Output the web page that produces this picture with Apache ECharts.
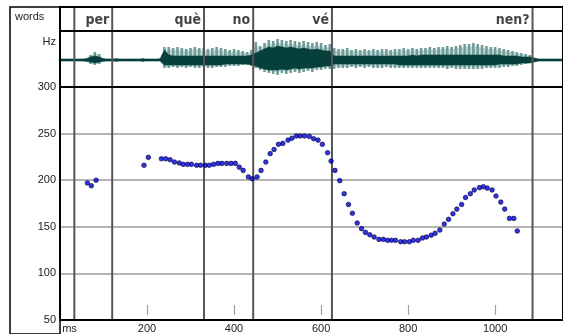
<!DOCTYPE html>
<html>
<head>
<meta charset="utf-8">
<script src="https://cdn.jsdelivr.net/npm/echarts@6/dist/echarts.min.js"></script>
<style>
html,body{margin:0;padding:0;background:#fff;}
#c{width:563px;height:334px;}
</style>
</head>
<body>
<div id="c"></div>
<script>
// ---- data ----
const words = ['per', 'què', 'no', 'vé', 'nen?'];
const boundaries = [33, 120, 331, 444, 625, 1086]; // ms
const xTicks = [0, 200, 400, 600, 800, 1000];
const yTicks = [50, 100, 150, 200, 250, 300];

const pitchTimes = [63, 72, 83,
  193, 203, 233, 243, 253, 263, 274, 283, 293, 302, 314, 323, 334, 343, 353, 363, 372, 383, 393, 403,
  412, 421, 433, 442, 453, 462, 473, 483, 492, 502, 512, 524, 533, 543, 552, 562, 573, 583, 593, 603,
  615, 623, 632, 643, 653, 663, 672, 683, 693, 702, 712, 722, 733, 743, 753, 762, 771, 783, 792, 803,
  812, 823, 833, 842, 853, 862, 873, 883, 893, 903, 912, 923, 932, 943, 952, 964, 973, 982, 993, 1002,
  1013, 1022, 1033, 1043, 1051];
const pitchHz = [197, 194, 200,
  216, 224.5, 223, 223, 222, 219.5, 218.5, 217, 217, 217, 216, 216, 216, 216, 217, 218, 218, 218, 218, 218,
  214, 210.5, 203.5, 201.5, 203.5, 210.5, 219.5, 228.5, 233, 238.5, 239.5, 243, 245, 247.5, 247.5, 247.5, 247, 244.5, 243, 238.5,
  229.5, 220.5, 210.5, 199.5, 185.5, 174, 164.5, 154, 148, 144, 141.5, 139, 136.5, 136.5, 135.5, 135.5, 135.5, 134, 134, 134,
  135.5, 135.5, 138, 139, 141, 143, 146.5, 153, 158, 164, 169, 174, 181.5, 185.5, 189.5, 192, 193, 191.5, 189.5, 183,
  176.5, 169, 159, 159, 145.5];

// waveform envelope, one value every 10 ms from 0 ms
const waveStep = 10;
const lightUp = [1,1,1,1,1,1,2,5,8,6,2,1,1,2,1,1,1,1,1,2,1,1,1,2,
  13,13,12,13,12,11,12,13,12,12,11,12,13,12,11,10,11,10,9,8,10,
  18,14,17,20,19,21,20,19,20,19,18,19,18,17,18,17,15,16,
  12,11,11,12,10,11,10,11,10,11,10,11,11,10,11,11,12,11,12,11,12,12,13,12,13,13,14,13,14,15,16,16,17,16,15,14,13,13,12,11,10,9,8,7,6,5,
  2,1,1,1,1,1,1];
const lightDown = [1,1,1,1,1,1,2,4,5,4,2,1,1,2,1,1,1,1,1,2,1,1,1,1,
  8,8,7,8,7,8,7,8,8,7,8,8,7,7,7,6,6,6,5,5,6,
  8,10,12,13,14,15,13,14,13,12,13,12,11,12,10,10,9,9,
  9,8,8,8,7,8,7,8,7,8,8,8,7,8,8,8,8,8,8,8,8,8,8,8,8,8,9,8,9,9,9,9,9,9,9,8,8,8,8,7,7,6,6,5,4,3,
  2,1,1,1,1,1,1];
const darkUp = [1,1,1,1,1,1,1,3,4,3,1,1,1,1,1,1,1,1,1,1,1,1,1,1,
  10,5,4,4,4,4,4,4,4,4,4,4,4,4,4,4,4,4,4,4,5,
  7,9,11,13,12,14,13,12,13,12,11,12,11,10,11,10,9,9,
  4,4,4,4,4,4,4,4,4,4,4,4,4,4,4,4,4,4,5,4,5,5,5,5,5,5,5,5,5,5,5,5,5,5,5,5,5,5,5,4,4,4,4,3,3,3,2,
  1,1,1,1,1,1,1];
const darkDown = [1,1,1,1,1,1,1,2,3,2,1,1,1,1,1,1,1,1,1,1,1,1,1,1,
  5,5,5,5,5,5,5,5,5,5,5,5,5,5,4,4,4,4,4,4,5,
  6,8,9,10,10,10,9,10,9,8,9,8,8,8,7,7,6,6,
  4,4,4,4,4,4,4,4,4,4,4,4,4,4,4,5,5,5,5,5,5,5,5,5,5,5,5,5,5,5,5,5,5,5,5,5,5,5,4,4,4,4,4,3,3,3,2,
  1,1,1,1,1,1,1];

// ---- build ----
const X_MAX = 1156;
const pitchData = pitchTimes.map((t, i) => [t, pitchHz[i]]);
const wordData = words.map((w, i) => ({ value: [boundaries[i + 1], 0.5], name: w }));
const labelFont = '"Liberation Sans", Arial, sans-serif';
const envData = (up, down) => up.map((v, i) => [i * waveStep, v, -down[i]]);

const chart = echarts.init(document.getElementById('c'), null, { renderer: 'canvas' });
const hiddenX = (g) => ({ type: 'value', gridIndex: g, min: 0, max: X_MAX, show: false });

// light envelope drawn as pitch-period-like stripes
const stripeSeries = (data, color, w, z) => ({
  type: 'custom', xAxisIndex: 2, yAxisIndex: 2, data: data, silent: true, z: z,
  renderItem: (params, api) => {
    const a = api.coord([api.value(0), api.value(1)]);
    const b = api.coord([api.value(0), api.value(2)]);
    return { type: 'rect', shape: { x: a[0] - w / 2, y: a[1], width: w, height: Math.max(1, b[1] - a[1]) },
      style: { fill: color } };
  }
});
const waveArea = (data, color, z) => ({
  type: 'line', xAxisIndex: 2, yAxisIndex: 2, data: data, symbol: 'none', silent: true,
  lineStyle: { width: 0.6, color: color }, areaStyle: { color: color, opacity: 1 }, z: z
});

chart.setOption({
  animation: false,
  grid: [
    { left: 10, top: 7, width: 50, bottom: -10, show: true, borderColor: '#000', borderWidth: 1.5, z: 10 },
    { left: 60, right: -5, top: 7, height: 24, show: true, borderColor: '#000', borderWidth: 2, z: 10 },
    { left: 60, right: -5, top: 31, height: 56, show: true, borderColor: '#000', borderWidth: 2, z: 10 },
    { left: 60, right: -5, top: 87, height: 234, show: true, borderColor: '#000', borderWidth: 2, z: 10 },
    { left: 60, right: -5, top: 7, height: 314, show: false }
  ],
  xAxis: [
    { type: 'value', gridIndex: 0, min: 0, max: 1, show: false },
    hiddenX(1),
    hiddenX(2),
    {
      type: 'value', gridIndex: 3, position: 'bottom', min: 0, max: X_MAX, interval: 200,
      axisLine: { show: false }, axisTick: { show: false }, splitLine: { show: false },
      axisLabel: {
        show: true, showMinLabel: true, showMaxLabel: false, margin: 3,
        color: '#222', fontSize: 11, fontFamily: labelFont,
        formatter: (v) => (v === xTicks[0] ? '{u|ms}' : (xTicks.indexOf(v) >= 0 ? String(v) : '')),
        rich: { u: { padding: [0, 0, 0, 19], color: '#222', fontSize: 11, fontFamily: labelFont } }
      }
    },
    {
      type: 'value', gridIndex: 3, position: 'bottom', min: 0, max: X_MAX, interval: 200, offset: -5,
      axisLine: { show: false }, axisLabel: { show: false }, splitLine: { show: false },
      axisTick: { show: true, inside: true, length: 10, lineStyle: { color: '#a0a0a0', width: 1.2 } }
    },
    hiddenX(4)
  ],
  yAxis: [
    { type: 'value', gridIndex: 0, min: 0, max: 1, show: false },
    { type: 'value', gridIndex: 1, min: 0, max: 1, show: false },
    { type: 'value', gridIndex: 2, min: -27, max: 29, show: false },
    {
      type: 'value', gridIndex: 3, min: yTicks[0], max: yTicks[yTicks.length - 1], interval: 50,
      axisLine: { show: false }, axisTick: { show: false },
      splitLine: { show: true, lineStyle: { color: '#b4b4b4', width: 2 } },
      axisLabel: { show: true, showMinLabel: true, showMaxLabel: true, margin: 4,
        color: '#222', fontSize: 11, fontFamily: labelFont }
    },
    { type: 'value', gridIndex: 4, min: 0, max: 1, show: false }
  ],
  graphic: [
    { type: 'text', left: 15, top: 11, style: { text: 'words', fill: '#222', font: '11px ' + labelFont } },
    { type: 'text', right: 563 - 56, top: 36, style: { text: 'Hz', fill: '#222', font: '11px ' + labelFont } }
  ],
  series: [
    {
      type: 'custom', xAxisIndex: 5, yAxisIndex: 4, data: boundaries.map(b => [b]), silent: true, z: 4,
      renderItem: (params, api) => {
        const p0 = api.coord([api.value(0), 1]);
        const p1 = api.coord([api.value(0), 0]);
        return { type: 'line', shape: { x1: p0[0], y1: p0[1], x2: p1[0], y2: p1[1] },
          style: { stroke: '#555', lineWidth: 2 } };
      }
    },
    {
      type: 'scatter', xAxisIndex: 1, yAxisIndex: 1, data: wordData, symbolSize: 0, silent: true,
      label: { show: true, position: 'left', distance: 3, offset: [0, 1], formatter: '{b}',
        color: '#111', fontWeight: 'bold', fontSize: 14,
        fontFamily: '"DejaVu Sans Condensed", "DejaVu Sans", sans-serif' }
    },
    waveArea(lightUp.map((v, i) => [i * waveStep, v * 0.8]), '#c3d7d5', 1),
    waveArea(lightDown.map((v, i) => [i * waveStep, -v * 0.8]), '#c3d7d5', 1),
    stripeSeries(envData(lightUp, lightDown), '#6f9d99', 2.6, 2),
    waveArea(darkUp.map((v, i) => [i * waveStep, v]), '#073f3d', 3),
    waveArea(darkDown.map((v, i) => [i * waveStep, -v]), '#073f3d', 3),
    {
      type: 'scatter', xAxisIndex: 3, yAxisIndex: 3, data: pitchData, symbol: 'circle', symbolSize: 4.6, z: 6,
      itemStyle: { color: '#0000e0', borderColor: '#00003c', borderWidth: 0.8 }
    }
  ]
});
</script>
</body>
</html>
